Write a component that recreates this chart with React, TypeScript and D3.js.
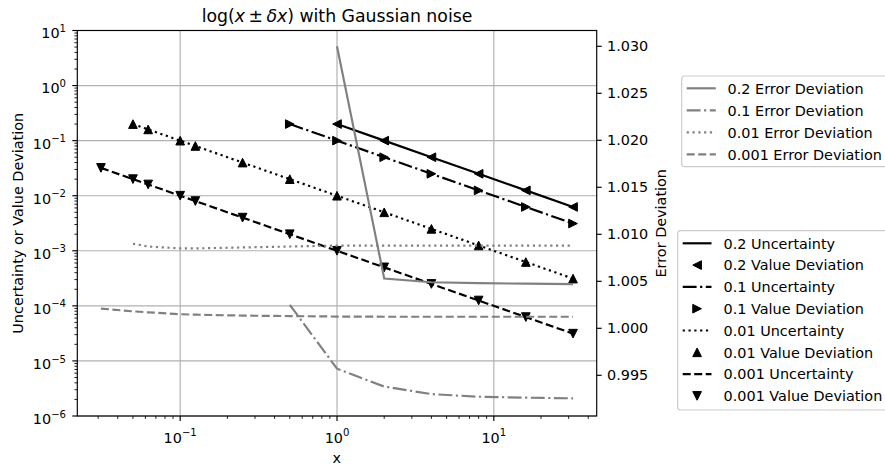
import React from 'react';
import * as d3 from 'd3';

// ---------- data ----------
const xs02 = [1, 2, 4, 8, 16, 32];
const unc02 = [0.2, 0.1, 0.05, 0.025, 0.0125, 0.00625];
const val02 = [0.2, 0.1, 0.05, 0.025, 0.0125, 0.00625];
const err02 = [1.0300, 1.0053, 1.0049, 1.0048, 1.00475, 1.0047];

const xs01 = [0.5, 1, 2, 4, 8, 16, 32];
const unc01 = [0.2, 0.1, 0.05, 0.025, 0.0125, 0.00625, 0.003125];
const val01 = [0.2, 0.1, 0.05, 0.025, 0.0125, 0.00625, 0.003125];
const err01 = [1.0025, 0.9957, 0.9938, 0.9930, 0.99272, 0.99262, 0.99255];

const xs001 = [0.05, 0.0625, 0.1, 0.125, 0.25, 0.5, 1, 2, 4, 8, 16, 32];
const unc001 = [0.2, 0.16, 0.1, 0.08, 0.04, 0.02, 0.01, 0.005, 0.0025, 0.00125, 0.000625, 0.0003125];
const val001 = [0.2, 0.16, 0.1, 0.08, 0.04, 0.02, 0.01, 0.005, 0.0025, 0.00125, 0.000625, 0.0003125];
const err001 = [1.0090, 1.0087, 1.0085, 1.0085, 1.0086, 1.0087, 1.0088, 1.0088, 1.0088, 1.0088, 1.0088, 1.0088];

const xs0001 = [0.03125, 0.05, 0.0625, 0.1, 0.125, 0.25, 0.5, 1, 2, 4, 8, 16, 32];
const unc0001 = [0.032, 0.02, 0.016, 0.01, 0.008, 0.004, 0.002, 0.001, 0.0005, 0.00025, 0.000125, 0.0000625, 0.00003125];
const val0001 = [0.032, 0.02, 0.016, 0.01, 0.008, 0.004, 0.002, 0.001, 0.0005, 0.00025, 0.000125, 0.0000625, 0.00003125];
const err0001 = [1.0021, 1.0018, 1.0017, 1.0015, 1.00145, 1.00135, 1.0013, 1.00125, 1.00123, 1.00123, 1.00123, 1.00123, 1.00123];

const deltaLabels = ['0.2', '0.1', '0.01', '0.001'];
const rightTicks = [0.995, 1.0, 1.005, 1.01, 1.015, 1.02, 1.025, 1.03];
const xDomain = [0.02208, 45.29];
const yDomain = [1e-6, 10];
const y2Domain = [0.99067, 1.03168];

// ---------- layout / style ----------
const W = 885, H = 469;
const X0 = 77.3, X1 = 596.7, Y0 = 30.5, Y1 = 416;
const FONT = 'DejaVu Sans, sans-serif';
const FS = 14.4;
const TFS = 17.3;
const LW = 2.17;
const GRAY = '#808080';
const DASH: Record<string, string | undefined> = {
  solid: undefined,
  dashdot: '13.9,3.5,2.2,3.5',
  dotted: '2.2,3.6',
  dashed: '8.0,3.5',
};
const styles = ['solid', 'dashdot', 'dotted', 'dashed'];
const markers = ['<', '>', '^', 'v'];

function tri(kind: string, cx: number, cy: number, r = 4.33) {
  let pts: number[][];
  if (kind === '^') pts = [[0, -r], [-r, r], [r, r]];
  else if (kind === 'v') pts = [[0, r], [-r, -r], [r, -r]];
  else if (kind === '<') pts = [[-r, 0], [r, -r], [r, r]];
  else pts = [[r, 0], [-r, -r], [-r, r]];
  return 'M' + pts.map(p => `${cx + p[0]},${cy + p[1]}`).join('L') + 'Z';
}

const xScale = d3.scaleLog().domain(xDomain).range([X0, X1]);
const yScale = d3.scaleLog().domain(yDomain).range([Y1, Y0]);
const y2Scale = d3.scaleLinear().domain(y2Domain).range([Y1, Y0]);

const series = [
  { xs: xs02, unc: unc02, val: val02, err: err02 },
  { xs: xs01, unc: unc01, val: val01, err: err01 },
  { xs: xs001, unc: unc001, val: val001, err: err001 },
  { xs: xs0001, unc: unc0001, val: val0001, err: err0001 },
];

function Pow({ exp, x, y, anchor }: { exp: number; x: number; y: number; anchor: string }) {
  const e = exp < 0 ? '\u2212' + Math.abs(exp) : String(exp);
  return (
    <text x={x} y={y} textAnchor={anchor} fontFamily={FONT} fontSize={FS} fill="#000">
      10<tspan fontSize={FS * 0.7} dy={-6.3}>{e}</tspan>
    </text>
  );
}

export default function App() {
  const lineMain = (xs: number[], ys: number[]) =>
    d3.line<number>().x((_, i) => xScale(xs[i])).y(d => yScale(d))(ys) || '';
  const lineErr = (xs: number[], ys: number[]) =>
    d3.line<number>().x((_, i) => xScale(xs[i])).y(d => y2Scale(d))(ys) || '';

  const yTicks = yScale.ticks();
  const xTicks = xScale.ticks();
  const isMajor = (v: number) => Math.abs(Math.log10(v) - Math.round(Math.log10(v))) < 1e-9;

  const leg1Y = [88.3, 110.3, 132.3, 154.3];
  const leg2Y = [243.3, 265.1, 286.9, 308.7, 330.5, 352.3, 374.1, 395.9];

  return (
    <svg width={W} height={H} viewBox={`0 0 ${W} ${H}`}
      style={{ position: 'absolute', left: 0, top: 0, background: '#fff' }}>
      <defs>
        <clipPath id="plotclip">
          <rect x={X0} y={Y0} width={X1 - X0} height={Y1 - Y0} />
        </clipPath>
      </defs>
      <rect x={0} y={0} width={W} height={H} fill="#fff" />

      {/* grid */}
      <g stroke="#b0b0b0" strokeWidth={1.16}>
        {yTicks.filter(isMajor).map(v => (
          <line key={'gy' + v} x1={X0} x2={X1} y1={yScale(v)} y2={yScale(v)} />
        ))}
        {xTicks.filter(isMajor).map(v => (
          <line key={'gx' + v} y1={Y0} y2={Y1} x1={xScale(v)} x2={xScale(v)} />
        ))}
      </g>

      {/* main lines and markers */}
      <g clipPath="url(#plotclip)">
        {series.map((s, i) => (
          <path key={'u' + i} d={lineMain(s.xs, s.unc)} fill="none" stroke="#000"
            strokeWidth={LW} strokeDasharray={DASH[styles[i]]} />
        ))}
        {series.map((s, i) => (
          <g key={'m' + i}>
            {s.val.map((v, j) => (
              <path key={j} d={tri(markers[i], xScale(s.xs[j]), yScale(v))}
                fill="#000" stroke="#000" strokeWidth={1} strokeLinejoin="miter" />
            ))}
          </g>
        ))}
        {series.map((s, i) => (
          <path key={'e' + i} d={lineErr(s.xs, s.err)} fill="none" stroke={GRAY}
            strokeWidth={LW} strokeDasharray={DASH[styles[i]]} />
        ))}
      </g>

      {/* spines */}
      <rect x={X0} y={Y0} width={X1 - X0} height={Y1 - Y0} fill="none" stroke="#000" strokeWidth={1.16} />

      {/* ticks */}
      <g stroke="#000">
        {yTicks.map(v => (
          <line key={'ty' + v} x1={X0} x2={X0 - (isMajor(v) ? 5 : 2.9)} y1={yScale(v)} y2={yScale(v)}
            strokeWidth={isMajor(v) ? 1.16 : 0.87} />
        ))}
        {xTicks.map(v => (
          <line key={'tx' + v} y1={Y1} y2={Y1 + (isMajor(v) ? 5 : 2.9)} x1={xScale(v)} x2={xScale(v)}
            strokeWidth={isMajor(v) ? 1.16 : 0.87} />
        ))}
        {rightTicks.map(v => (
          <line key={'tr' + v} x1={X1} x2={X1 + 5} y1={y2Scale(v)} y2={y2Scale(v)} strokeWidth={1.16} />
        ))}
      </g>
      {yTicks.filter(isMajor).map(v => (
        <Pow key={'ly' + v} exp={Math.round(Math.log10(v))} x={66} y={yScale(v) + 7.9} anchor="end" />
      ))}
      {xTicks.filter(isMajor).map(v => (
        <Pow key={'lx' + v} exp={Math.round(Math.log10(v))} x={xScale(v)} y={442.7} anchor="middle" />
      ))}
      {rightTicks.map(v => (
        <text key={'lr' + v} x={607} y={y2Scale(v) + 5.2} fontFamily={FONT} fontSize={FS} fill="#000">
          {v.toFixed(3)}
        </text>
      ))}

      {/* axis labels */}
      <text x={336.8} y={462.7} textAnchor="middle" fontFamily={FONT} fontSize={FS}>x</text>
      <text transform={`translate(22.7,${(Y0 + Y1) / 2}) rotate(-90)`} textAnchor="middle"
        fontFamily={FONT} fontSize={FS}>Uncertainty or Value Deviation</text>
      <text transform={`translate(665.7,${(Y0 + Y1) / 2}) rotate(-90)`} textAnchor="middle"
        fontFamily={FONT} fontSize={FS}>Error Deviation</text>

      {/* title */}
      <text x={(X0 + X1) / 2} y={21.7} textAnchor="middle" fontFamily={FONT} fontSize={TFS}>
        log(<tspan fontStyle="italic">x</tspan>{'\u2009±\u2009'}<tspan fontStyle="italic">δx</tspan>) with Gaussian noise
      </text>

      {/* legend 1 */}
      <rect x={681.7} y={76} width={215} height={90.7} rx={2.9} fill="#fff" fillOpacity={0.8}
        stroke="#cccccc" strokeWidth={1.16} />
      {deltaLabels.map((d, i) => (
        <g key={'l1' + i}>
          <line x1={686.7} x2={715.8} y1={leg1Y[i]} y2={leg1Y[i]} stroke={GRAY} strokeWidth={LW}
            strokeDasharray={DASH[styles[i]]} />
          <text x={727.6} y={leg1Y[i] + 5.2} fontFamily={FONT} fontSize={FS}>{d} Error Deviation</text>
        </g>
      ))}

      {/* legend 2 */}
      <rect x={677.7} y={230.7} width={220} height={179.3} rx={2.9} fill="#fff" fillOpacity={0.8}
        stroke="#cccccc" strokeWidth={1.16} />
      {deltaLabels.map((d, i) => (
        <g key={'l2' + i}>
          <line x1={682.7} x2={711.5} y1={leg2Y[2 * i]} y2={leg2Y[2 * i]} stroke="#000" strokeWidth={LW}
            strokeDasharray={DASH[styles[i]]} />
          <text x={723.6} y={leg2Y[2 * i] + 5.2} fontFamily={FONT} fontSize={FS}>{d} Uncertainty</text>
          <path d={tri(markers[i], 697.1, leg2Y[2 * i + 1])} fill="#000" stroke="#000" strokeWidth={1} />
          <text x={723.6} y={leg2Y[2 * i + 1] + 5.2} fontFamily={FONT} fontSize={FS}>{d} Value Deviation</text>
        </g>
      ))}
    </svg>
  );
}
